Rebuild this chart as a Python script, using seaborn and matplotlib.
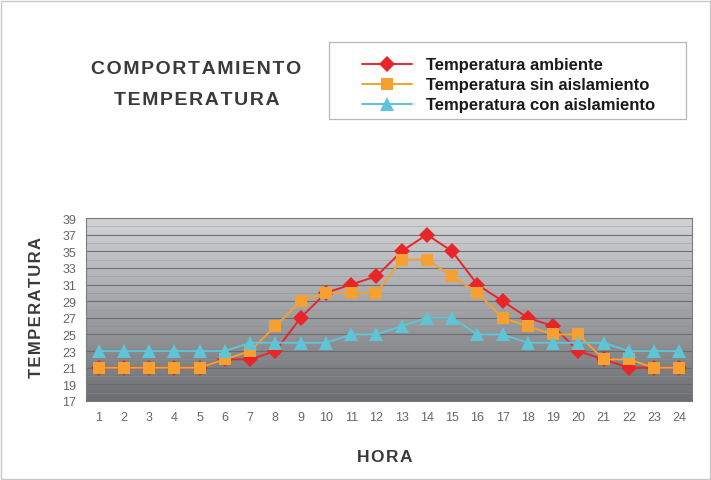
import matplotlib
matplotlib.use("Agg")
import matplotlib.pyplot as plt
import seaborn as sns
import numpy as np
import pandas as pd
from matplotlib.patches import Rectangle

horas = list(range(1, 25))
ambiente = [21, 21, 21, 21, 21, 22, 22, 23, 27, 30, 31, 32, 35, 37, 35, 31, 29, 27, 26, 23, 22, 21, 21, 21]
sin_aisl = [21, 21, 21, 21, 21, 22, 23, 26, 29, 30, 30, 30, 34, 34, 32, 30, 27, 26, 25, 25, 22, 22, 21, 21]
con_aisl = [23, 23, 23, 23, 23, 23, 24, 24, 24, 24, 25, 25, 26, 27, 27, 25, 25, 24, 24, 24, 24, 23, 23, 23]
y_ticks = list(range(17, 40, 2))

series = [
    ("Temperatura ambiente", ambiente, "#e8262a", "D", 8),
    ("Temperatura sin aislamiento", sin_aisl, "#f5a030", "s", 9),
    ("Temperatura con aislamiento", con_aisl, "#5ec4d6", "^", 9.5),
]


def spaced(txt):
    return "\u200a".join(txt)


sns.set_theme(style="white")
plt.rcParams['font.family'] = ['Liberation Sans', 'DejaVu Sans']

fig = plt.figure(figsize=(7.11, 4.81), dpi=100)
ax = fig.add_axes([86 / 711, 1 - 402 / 481, 606 / 711, 183 / 481])

# gradient background
grad = np.linspace(0, 1, 256).reshape(-1, 1)
cmap = matplotlib.colors.LinearSegmentedColormap.from_list("g", ["#6c6d71", "#a2a3a6", "#d3d4d6"])
ax.imshow(grad, aspect="auto", cmap=cmap, origin="lower",
          extent=[0.5, 24.5, 17, 39], zorder=0)

for y in range(18, 39, 2):
    ax.axhline(y, color="#8f9094", lw=0.6, zorder=1, alpha=0.5)
for y in y_ticks:
    ax.axhline(y, color="#67686c", lw=0.8, zorder=1, alpha=0.9)

for name, vals, col, mk, ms in series:
    df = pd.DataFrame({"hora": horas, "temp": vals})
    sns.lineplot(data=df, x="hora", y="temp", ax=ax, color=col, lw=1.4,
                 marker=mk, markersize=ms, markeredgewidth=0, zorder=3, label=name)

ax.get_legend().remove()
handles, labels = ax.get_legend_handles_labels()

ax.set_xlim(0.5, 24.5)
ax.set_ylim(17, 39)
ax.set_xticks(horas)
ax.set_yticks(y_ticks)
ax.tick_params(axis="both", labelsize=9, colors="#666666", length=0, pad=7)
ax.set_xlabel("")
ax.set_ylabel("")
for s in ax.spines.values():
    s.set_color("#7a7b7f")
    s.set_linewidth(0.8)

# titles and axis labels
fig.text(196 / 711, 1 - 70 / 481, spaced("COMPORTAMIENTO"),
         ha="center", va="center", fontsize=14, fontweight="bold", color="#3a3a3a")
fig.text(197 / 711, 1 - 101 / 481, spaced("TEMPERATURA"),
         ha="center", va="center", fontsize=14, fontweight="bold", color="#3a3a3a")
fig.text(37 / 711, 1 - 308 / 481, spaced("TEMPERATURA"), rotation=90,
         ha="center", va="center", fontsize=12, fontweight="bold", color="#3a3a3a")
fig.text(385 / 711, 1 - 458 / 481, spaced("HORA"),
         ha="center", va="center", fontsize=12.5, fontweight="bold", color="#3a3a3a")

# legend box
fig.patches.append(Rectangle((329 / 711, 1 - 120 / 481), 357 / 711, 77 / 481,
                             transform=fig.transFigure, fill=False,
                             edgecolor="#b8b8b8", lw=0.9))
leg = fig.legend(handles, labels, loc="upper left",
                 bbox_to_anchor=(354 / 711, 1 - 50 / 481), frameon=False,
                 fontsize=12, handlelength=3.0, handletextpad=0.8,
                 labelspacing=0.3, borderpad=0)
for t in leg.get_texts():
    t.set_color("#1a1a1a")
    t.set_fontweight("bold")

# outer border
fig.patches.append(Rectangle((0.002, 0.002), 0.996, 0.994, transform=fig.transFigure,
                             fill=False, edgecolor="#c8c8c8", lw=1))

fig.savefig("out.png", dpi=100)
